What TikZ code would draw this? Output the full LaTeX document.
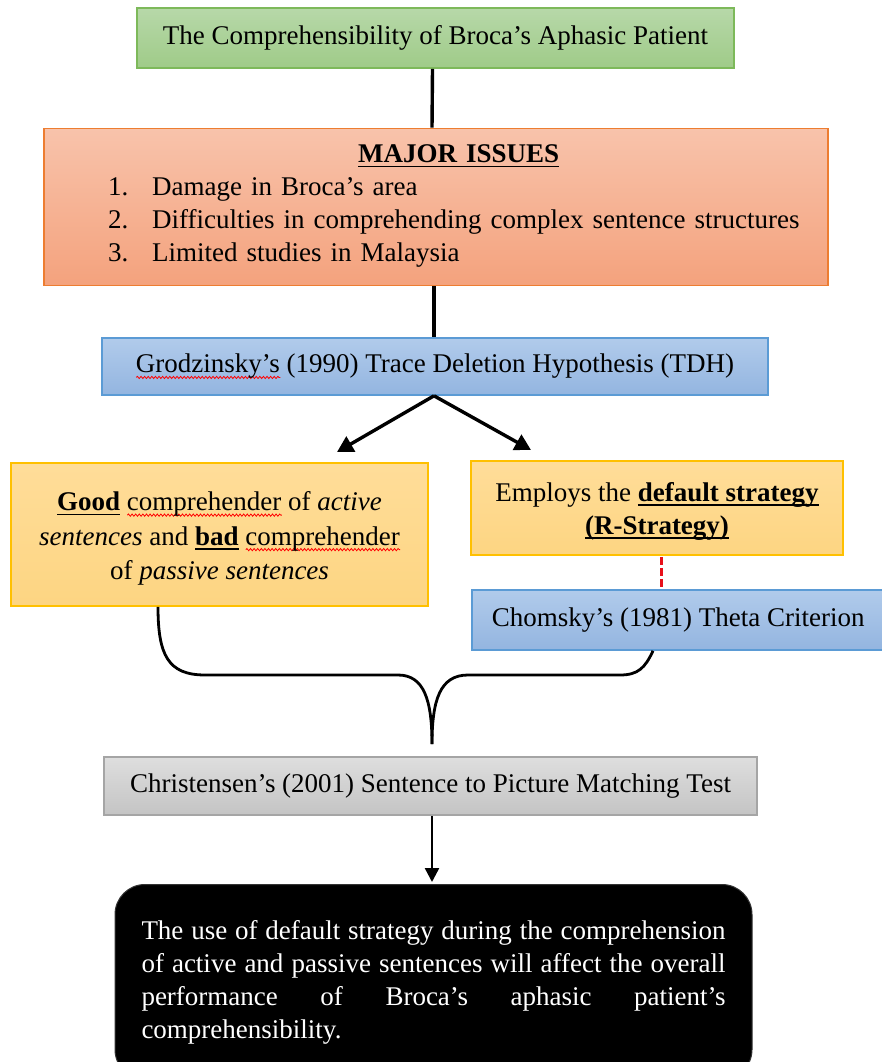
\documentclass[tikz,border=0pt]{standalone}
\usepackage{fontspec}
\setmainfont{Liberation Serif}
\usetikzlibrary{arrows.meta,calc,decorations.pathmorphing}
\newlength\ulwd
\newcommand\undl[1]{\settowidth\ulwd{#1}\leavevmode\rlap{\rule[-4.5pt]{\ulwd}{1.5pt}}#1}
\newcommand\spellwave[1]{\settowidth\ulwd{#1}\leavevmode\rlap{\smash{\tikz[baseline=0pt]\draw[red, line width=0.8pt, decorate, decoration={snake, amplitude=1.1pt, segment length=3.6pt}] (0pt,-4.5pt) -- (\ulwd,-4.5pt);}}#1}
\definecolor{grnD}{HTML}{7DB95A}
\definecolor{grnT}{HTML}{B7D8A9}
\definecolor{grnU}{HTML}{9FCB88}
\definecolor{orD}{HTML}{ED7D31}
\definecolor{orT}{HTML}{F8C3AB}
\definecolor{orU}{HTML}{F4A27D}
\definecolor{bluD}{HTML}{5B9BD5}
\definecolor{bluT}{HTML}{B1CBEB}
\definecolor{bluU}{HTML}{93B5E0}
\definecolor{yelD}{HTML}{FFC000}
\definecolor{yelT}{HTML}{FFDD99}
\definecolor{yelU}{HTML}{FDD582}
\definecolor{gryD}{HTML}{A5A5A5}
\definecolor{gryT}{HTML}{DEDEDE}
\definecolor{gryU}{HTML}{C4C4C4}
\definecolor{dashred}{HTML}{E8101A}
\tikzset{
  every node/.style={font=\fontsize{27}{33}\selectfont},
  boxbase/.style={rectangle, line width=1.6pt, inner sep=0pt},
  grnbox/.style={boxbase, draw=grnD, top color=grnT, bottom color=grnU},
  orbox/.style={boxbase, draw=orD, top color=orT, bottom color=orU},
  blubox/.style={boxbase, draw=bluD, top color=bluT, bottom color=bluU},
  yelbox/.style={boxbase, draw=yelD, top color=yelT, bottom color=yelU, align=center},
  grybox/.style={boxbase, draw=gryD, top color=gryT, bottom color=gryU},
  blkbox/.style={rectangle, rounded corners=30pt, fill=black, draw=black!80, line width=1pt,
                 text=white, text width=584pt, inner xsep=26.5pt, inner ysep=35.6pt, align=left},
  conn/.style={line width=3.4pt, black},
  arrowconn/.style={conn, -{Triangle[length=16pt,width=17pt]}},
  smallarrow/.style={line width=2.4pt, black, -{Triangle[length=14pt,width=14pt]}},
  bracecurve/.style={line width=2.8pt, black},
  reddash/.style={line width=3pt, dashred, dash pattern=on 8pt off 3pt},
}
\begin{document}
\begin{tikzpicture}[x=1pt,y=-1pt]
\useasboundingbox (0,0) rectangle (882,1062);
\fill[white] (0,0) rectangle (882,1062);

\node[grnbox, minimum width=597pt, minimum height=60pt] (title) at (435.5,38)
  {The Comprehensibility of Broca's Aphasic Patient};

\node[orbox, minimum width=784pt, minimum height=157pt] (issues) at (436,207) {};
\node[anchor=north west, inner sep=0pt, text width=692pt, align=left] (issuestext) at (108,144.7)
  {\hspace*{250pt}\undl{\textbf{MAJOR ISSUES}}\\
   \makebox[44pt][l]{1.}Damage in Broca's area\\
   \makebox[44pt][l]{2.}Difficulties in comprehending complex sentence structures\\
   \makebox[44pt][l]{3.}Limited studies in Malaysia};

\node[blubox, minimum width=666pt, minimum height=57pt] (tdh) at (435,366.5)
  {\spellwave{Grodzinsky's} (1990) Trace Deletion Hypothesis (TDH)};

\node[yelbox, minimum width=417pt, minimum height=143pt,
      font=\fontsize{27}{34.5}\selectfont] (good) at (219.5,534.5)
  {\rule{0pt}{27pt}\undl{\textbf{Good}} \spellwave{comprehender} of \textit{active}\\
   \textit{sentences} and \undl{\textbf{bad}} \spellwave{comprehender}\\
   of \textit{passive sentences}};

\node[yelbox, minimum width=372pt, minimum height=94pt] (strat) at (657,508)
  {\rule{0pt}{25pt}Employs the \undl{\textbf{default strategy}}\\
   \undl{\textbf{(R-Strategy)}}};

\node[blubox, anchor=west, minimum height=60pt, inner xsep=20pt] (chomsky) at (471,620)
  {Chomsky's (1981) Theta Criterion};

\node[grybox, minimum width=653pt, minimum height=58pt] (test) at (430.5,786)
  {Christensen's (2001) Sentence to Picture Matching Test};

\node[blkbox, anchor=north] (result) at (433.5,884)
  {\makebox[584pt][s]{The\hfill use\hfill of\hfill default\hfill strategy\hfill during\hfill the\hfill comprehension}\\
   \makebox[584pt][s]{of\hfill active\hfill and\hfill passive\hfill sentences\hfill will\hfill affect\hfill the\hfill overall}\\
   \makebox[584pt][s]{performance\hfill of\hfill Broca's\hfill aphasic\hfill patient's}\\
   comprehensibility.};

% connectors
\draw[conn] ($(title.south)+(-3,0)$) -- ($(issues.north)+(-4,0)$);
\draw[conn] ($(issues.south)+(-2,0)$) -- ($(tdh.north)+(-1,0)$);

\coordinate (tipL) at (337,452);
\coordinate (tipR) at (531,450);
\draw[arrowconn] ($(tdh.south)+(-1,0)$) -- (tipL);
\draw[arrowconn] ($(tdh.south)+(-1,0)$) -- (tipR);

\draw[reddash] ($(strat.south)+(4,1)$) -- ($(strat.south |- chomsky.north)+(4,-1)$);

\coordinate (braceL) at ($(good.south)+(-61.5,0)$);
\coordinate (braceR) at ($(chomsky.south west)+(182,0)$);
\coordinate (braceTip) at ($(test.north)+(1.5,-12)$);
\draw[bracecurve] (braceL) .. controls (158,655) and (168,675) .. (205,675)
   -- (398,675) .. controls (424,675) and (432,700) .. (braceTip);
\draw[bracecurve] (braceR) .. controls (645,668) and (638,675) .. (620,675)
   -- (468,675) .. controls (440,675) and (432,700) .. (braceTip);

\draw[smallarrow] ($(test.south)+(1.5,0)$) -- ($(test.south |- result.north)+(1.5,-2)$);
\end{tikzpicture}
\end{document}
